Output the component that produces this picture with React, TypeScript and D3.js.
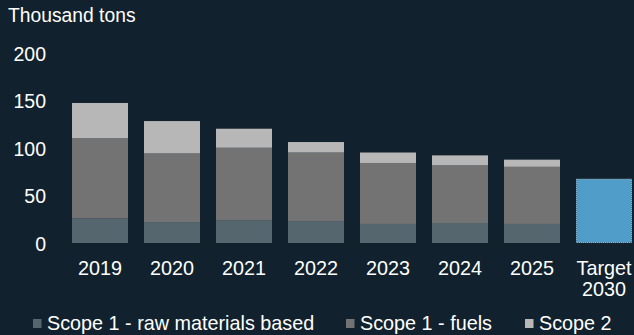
import React from "react";
import * as d3 from "d3";

const categories = ["2019", "2020", "2021", "2022", "2023", "2024", "2025", "Target 2030"];
const scope1Raw = [26, 22, 24, 23, 20, 21, 20, 0];
const scope1Fuels = [84, 72, 76, 72, 64, 60.5, 60, 0];
const scope2 = [37, 34, 20, 11, 11, 10.5, 7.5, 0];
const target = [0, 0, 0, 0, 0, 0, 0, 67.5];
const yTicks = [0, 50, 100, 150, 200];
const seriesNames = ["Scope 1 - raw materials based", "Scope 1 - fuels", "Scope 2"];

const W = 634;
const H = 335;
const BG = "#11222e";
const COLORS = ["#56666f", "#737373", "#b7b7b7"];
const TARGET_COLOR = "#509dca";
const FONT = "'Liberation Sans', Arial, sans-serif";

export default function App() {
  const x = d3.scaleBand<string>().domain(categories).range([64, 640]).paddingInner(16 / 72).paddingOuter(8 / 72);
  const y = d3.scaleLinear().domain([0, 200]).range([243, 52.5]);

  const rows = categories.map((c, i) => ({ cat: c, raw: scope1Raw[i], fuels: scope1Fuels[i], s2: scope2[i] }));
  const stack = d3.stack<any>().keys(["raw", "fuels", "s2"])(rows);

  const legendX = [33, 346, 525];

  return (
    <svg width={W} height={H} style={{ position: "absolute", left: 0, top: 0, background: BG }}>
      <rect x={0} y={0} width={W} height={H} fill={BG} />
      <text x={8} y={21.5} fill="#ffffff" fontFamily={FONT} fontSize={19.3}>Thousand tons</text>
      {yTicks.map((t) => (
        <text key={t} x={46} y={y(t) + 8} textAnchor="end" fill="#ffffff" fontFamily={FONT} fontSize={19.5}>{t}</text>
      ))}
      {stack.map((s, si) =>
        s.map((d, i) =>
          d[1] - d[0] > 0 ? (
            <rect key={si + "-" + i} x={x(categories[i])} y={y(d[1])} width={x.bandwidth()} height={y(d[0]) - y(d[1])} fill={COLORS[si]} />
          ) : null
        )
      )}
      {target.map((v, i) =>
        v > 0 ? (
          <rect key={"t" + i} x={x(categories[i])! + 0.5} y={y(v) + 0.5} width={x.bandwidth() - 1} height={y(0) - y(v) - 1}
            fill={TARGET_COLOR} stroke="#a9c9e0" strokeWidth={1} strokeDasharray="1,1" />
        ) : null
      )}
      {categories.map((c, i) => {
        const cx = x(c)! + x.bandwidth() / 2;
        const parts = c.split(" ");
        return (
          <text key={c} x={cx} y={275} textAnchor="middle" fill="#ffffff" fontFamily={FONT} fontSize={19.8}>
            {parts.map((p, j) => (
              <tspan key={j} x={cx} dy={j === 0 ? 0 : 20.5}>{p}</tspan>
            ))}
          </text>
        );
      })}
      {seriesNames.map((n, i) => (
        <g key={n}>
          <rect x={legendX[i]} y={319} width={8.5} height={9} fill={COLORS[i]} />
          <text x={legendX[i] + 14} y={329.5} fill="#ffffff" fontFamily={FONT} fontSize={19.8}>{n}</text>
        </g>
      ))}
    </svg>
  );
}
